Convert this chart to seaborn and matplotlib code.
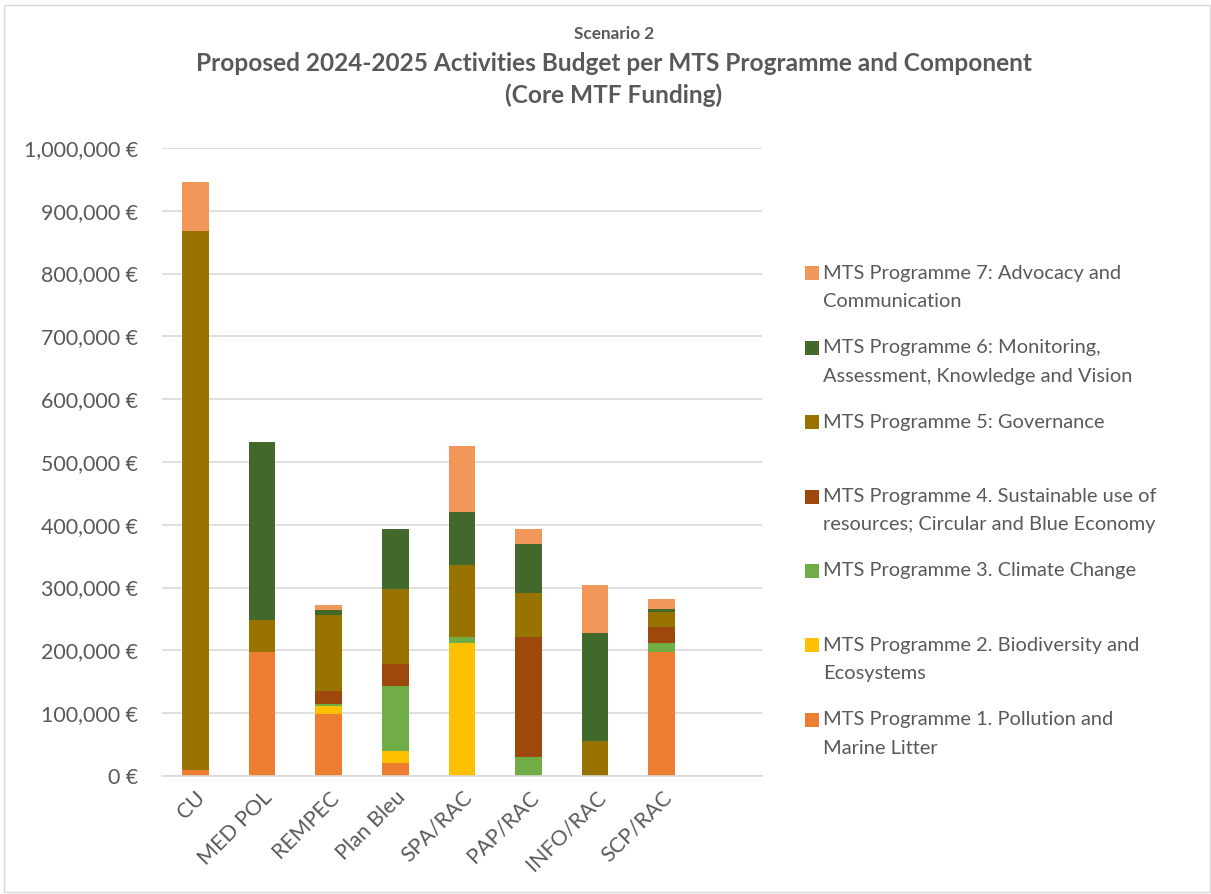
import matplotlib
matplotlib.use("Agg")
import matplotlib.pyplot as plt
import seaborn as sns
import numpy as np
import pandas as pd
from matplotlib.ticker import FuncFormatter
from matplotlib.patches import Rectangle, Patch
from matplotlib.legend_handler import HandlerPatch

components = ["CU", "MED POL", "REMPEC", "Plan Bleu", "SPA/RAC", "PAP/RAC", "INFO/RAC", "SCP/RAC"]

programmes = [
    "MTS Programme 1. Pollution and\nMarine Litter",
    "MTS Programme 2. Biodiversity and\nEcosystems",
    "MTS Programme 3. Climate Change",
    "MTS Programme 4. Sustainable use of\nresources; Circular and Blue Economy",
    "MTS Programme 5: Governance",
    "MTS Programme 6: Monitoring,\nAssessment, Knowledge and Vision",
    "MTS Programme 7: Advocacy and\nCommunication",
]

p1 = [10000, 198000, 99000, 20000, 0, 0, 0, 198000]
p2 = [0, 0, 12000, 20000, 211000, 0, 0, 0]
p3 = [0, 0, 4000, 103000, 10000, 30000, 0, 14000]
p4 = [0, 0, 20000, 36000, 0, 191000, 0, 26000]
p5 = [858000, 50000, 122000, 119000, 115000, 70000, 55000, 23000]
p6 = [0, 284000, 7000, 95000, 84000, 79000, 173000, 5000]
p7 = [78000, 0, 8000, 0, 106000, 23000, 76000, 16000]

colors = ["#ED7D31", "#FFC000", "#70AD47", "#9E480E", "#997300", "#43682B", "#F1975A"]

series = [p1, p2, p3, p4, p5, p6, p7]
df = pd.DataFrame({"component": components})
cum = np.zeros(len(components))
for i, s in enumerate(series):
    cum = cum + np.array(s)
    df[f"cum{i}"] = cum

sns.set_style("white")
plt.rcParams["font.family"] = ["Lato", "DejaVu Sans"]

fig = plt.figure(figsize=(12.11, 8.94), dpi=100)
ax = fig.add_axes([0.1338, 0.132, 0.4952, 0.7025])

# stack by overdrawing cumulative totals, tallest first
for i in range(6, -1, -1):
    sns.barplot(data=df, x="component", y=f"cum{i}", color=colors[i], saturation=1,
                width=0.4, ax=ax, order=components, linewidth=0)

ax.set_xlim(-0.5, 8.5)
ax.set_ylim(0, 1000000)
ax.set_yticks(np.arange(0, 1000001, 100000))
ax.yaxis.set_major_formatter(FuncFormatter(lambda v, p: f"{v:,.0f} €"))
ax.grid(axis="y", color="#D9D9D9", linewidth=1.2)
ax.set_axisbelow(True)
for sp in ["top", "right", "left"]:
    ax.spines[sp].set_visible(False)
ax.spines["bottom"].set_color("#D9D9D9")
ax.spines["bottom"].set_linewidth(1.2)
ax.set_xlabel("")
ax.set_ylabel("")
ax.tick_params(axis="both", length=0, colors="#595959", labelsize=15.4)
ax.tick_params(axis="y", pad=17)
ax.tick_params(axis="x", pad=8)
plt.setp(ax.get_xticklabels(), rotation=45, ha="right", rotation_mode="anchor")

# legend: marker squares sit on the first line of each entry (Excel style),
# every entry takes two lines of space
LINE_PT = 28.5 * 72 / 100


def make_handler(nlines):
    def patch_func(legend, orig_handle, xdescent, ydescent, width, height, fontsize):
        off = (nlines - 1) / 2 * LINE_PT
        return Rectangle((-xdescent, -ydescent + off), width, height)
    return HandlerPatch(patch_func=patch_func)


handles, labels, hmap = [], [], {}
for i in range(6, -1, -1):
    h = Patch(facecolor=colors[i], edgecolor="none")
    lab = programmes[i] if "\n" in programmes[i] else programmes[i] + "\n "
    handles.append(h)
    labels.append(lab)
    hmap[h] = make_handler(lab.count("\n") + 1)

leg = fig.legend(handles, labels, handler_map=hmap, loc="upper left",
                 bbox_to_anchor=(0.658, 0.713), frameon=False, fontsize=14.4,
                 labelcolor="#595959", handlelength=0.7, handleheight=0.7,
                 handletextpad=0.22, labelspacing=1.45, borderaxespad=0)
for t in leg.get_texts():
    t.set_linespacing(1.82)

fig.text(0.507, 0.962, "Scenario 2", ha="center", va="center", fontsize=12.3,
         fontweight="bold", color="#595959")
fig.text(0.507, 0.911, "Proposed 2024-2025 Activities Budget per MTS Programme and Component\n(Core MTF Funding)",
         ha="center", va="center", fontsize=17.6, fontweight="bold", color="#595959",
         linespacing=1.4)

fig.patches.append(Rectangle((0.003, 0.002), 0.996, 0.992, transform=fig.transFigure,
                             fill=False, edgecolor="#D9D9D9", linewidth=1))

fig.savefig("out.png", dpi=100)
